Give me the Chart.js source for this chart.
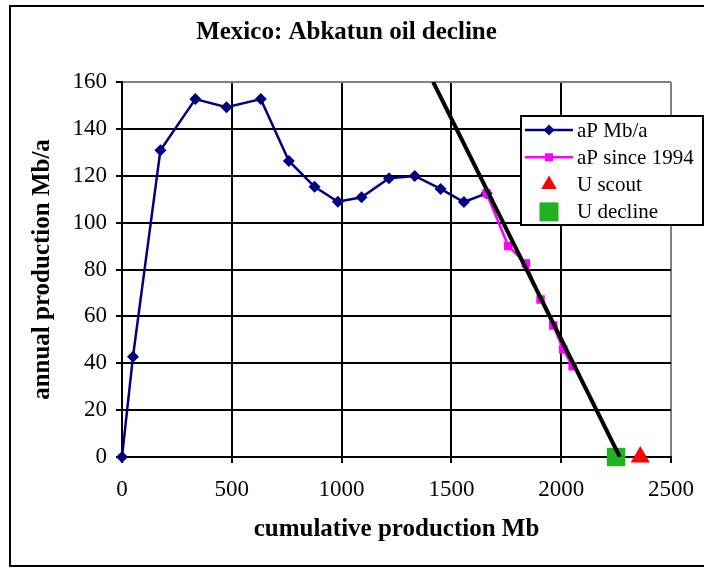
<!DOCTYPE html>
<html>
<head>
<meta charset="utf-8">
<title>Mexico: Abkatun oil decline</title>
<script src="https://cdn.jsdelivr.net/npm/chart.js@4.4.1/dist/chart.umd.min.js"></script>
<style>
  html, body { margin: 0; padding: 0; background: #fff; }
  canvas { display: block; }
</style>
</head>
<body>
<canvas id="chart" width="704" height="568"></canvas>
<script>
// cumulative production (Mb) vs annual production (Mb/a)
const cumProd = [0, 50, 175, 334, 476, 632, 760, 877, 983, 1091, 1216, 1333, 1451, 1557, 1660];
const annualProd = [0, 42.8, 130.9, 152.7, 149.2, 152.7, 126.3, 115.3, 108.9, 110.8, 118.9, 119.9, 114.4, 108.8, 112.5];

// since 1994
const cumSince1994 = [1660, 1759, 1839, 1906, 1964, 2009, 2052];
const annualSince1994 = [112.5, 90.0, 82.6, 67.2, 56.1, 45.9, 38.7];

// fitted decline line
const declineLineX = [1417, 2267];
const declineLineY = [160, 0];

// ultimate estimates
const uScoutX = [2360];
const uDeclineX = [2250];

const xTickValues = [0, 500, 1000, 1500, 2000, 2500];
const yTickValues = [0, 20, 40, 60, 80, 100, 120, 140, 160];

const serif = "'Liberation Serif', 'Times New Roman', serif";
const navy = '#000080';
const magenta = '#ff00ff';
const red = '#ff0000';
const green = '#1fb31f';

const toPoints = (xs, ys) => xs.map((x, i) => ({ x: x, y: ys[i] }));

// draw a legend marker by hand so the sample matches the plotted ones
function drawMarker(ctx, shape, x, y, r, color) {
  ctx.save();
  ctx.fillStyle = color;
  ctx.beginPath();
  if (shape === 'diamond') {
    ctx.moveTo(x, y - r);
    ctx.lineTo(x + r, y);
    ctx.lineTo(x, y + r);
    ctx.lineTo(x - r, y);
  } else if (shape === 'triangle') {
    ctx.moveTo(x, y - r);
    ctx.lineTo(x + r * 0.866, y + r * 0.5);
    ctx.lineTo(x - r * 0.866, y + r * 0.5);
  } else {
    ctx.rect(x - r, y - r, 2 * r, 2 * r);
  }
  ctx.closePath();
  ctx.fill();
  ctx.restore();
}

const frame = {
  id: 'frame',
  beforeDraw(chart) {
    const ctx = chart.ctx;
    ctx.save();
    ctx.fillStyle = '#fff';
    ctx.fillRect(0, 0, chart.width, chart.height);
    ctx.strokeStyle = '#000';
    ctx.lineWidth = 2;
    ctx.strokeRect(10, 6, 710, 560);
    ctx.restore();
  }
};

const legendItems = [
  { label: 'aP Mb/a', color: navy, line: true, shape: 'diamond', r: 5.5 },
  { label: 'aP since 1994', color: magenta, line: true, shape: 'square', r: 4 },
  { label: 'U scout', color: red, line: false, shape: 'triangle', r: 9 },
  { label: 'U decline', color: green, line: false, shape: 'square', r: 9.5 }
];

const boxLegend = {
  id: 'boxLegend',
  afterDraw(chart) {
    const ctx = chart.ctx;
    const left = 521, top = 116, w = 182, h = 109;
    ctx.save();
    ctx.fillStyle = '#fff';
    ctx.fillRect(left, top, w, h);
    ctx.strokeStyle = '#000';
    ctx.lineWidth = 2;
    ctx.strokeRect(left, top, w, h);
    ctx.font = '21px ' + serif;
    ctx.textBaseline = 'middle';
    ctx.textAlign = 'left';
    legendItems.forEach((item, i) => {
      const y = top + 14 + i * 27.3;
      if (item.line) {
        ctx.strokeStyle = item.color;
        ctx.lineWidth = 2.5;
        ctx.beginPath();
        ctx.moveTo(525, y);
        ctx.lineTo(573, y);
        ctx.stroke();
      }
      drawMarker(ctx, item.shape, 549, y, item.r, item.color);
      ctx.fillStyle = '#000';
      ctx.fillText(item.label, 577, y + 1);
    });
    ctx.restore();
  }
};

new Chart(document.getElementById('chart'), {
  type: 'scatter',
  data: {
    datasets: [
      {
        label: 'decline',
        data: toPoints(declineLineX, declineLineY),
        showLine: true,
        borderColor: '#000',
        borderWidth: 4,
        pointRadius: 0
      },
      {
        label: 'U decline',
        data: toPoints(uDeclineX, [0]),
        pointStyle: 'rect',
        pointRadius: 13,
        backgroundColor: green,
        borderWidth: 0,
        clip: false
      },
      {
        label: 'U scout',
        data: toPoints(uScoutX, [0]),
        pointStyle: 'triangle',
        pointRadius: 11,
        backgroundColor: red,
        borderWidth: 0,
        clip: false
      },
      {
        label: 'aP since 1994',
        data: toPoints(cumSince1994, annualSince1994),
        showLine: true,
        borderColor: magenta,
        borderWidth: 2.5,
        pointStyle: 'rect',
        pointRadius: 6,
        backgroundColor: magenta,
        pointBorderWidth: 0
      },
      {
        label: 'aP Mb/a',
        data: toPoints(cumProd, annualProd),
        showLine: true,
        borderColor: navy,
        borderWidth: 2.5,
        pointStyle: 'rectRot',
        pointRadius: 6,
        backgroundColor: navy,
        pointBorderWidth: 0,
        clip: false
      }
    ]
  },
  options: {
    responsive: false,
    animation: false,
    devicePixelRatio: 1,
    layout: { padding: { left: 22, right: 33, top: 0, bottom: 0 } },
    plugins: {
      legend: { display: false },
      tooltip: { enabled: false },
      title: {
        display: true,
        text: 'Mexico: Abkatun oil decline',
        color: '#000',
        font: { family: serif, size: 25, weight: 'bold' },
        padding: { top: 18, bottom: 34 }
      }
    },
    scales: {
      x: {
        type: 'linear',
        min: 0,
        max: 2500,
        afterBuildTicks: (scale) => { scale.ticks = xTickValues.map(v => ({ value: v })); },
        afterFit: (scale) => {
          scale.height = 111;
          scale.paddingLeft = 0;
          scale.paddingRight = 0;
        },
        ticks: {
          color: '#000',
          font: { family: serif, size: 23 },
          padding: 13,
          maxRotation: 0,
          callback: (v) => String(v)
        },
        grid: {
          color: (c) => (c.tick && c.tick.value === 2500 ? '#808080' : '#000'),
          tickColor: '#000',
          lineWidth: 2,
          tickLength: 6
        },
        border: { color: '#000', width: 2 },
        title: {
          display: true,
          text: 'cumulative production Mb',
          color: '#000',
          font: { family: serif, size: 25, weight: 'bold' },
          padding: { top: 0, bottom: 23 }
        }
      },
      y: {
        type: 'linear',
        min: 0,
        max: 160,
        afterBuildTicks: (scale) => { scale.ticks = yTickValues.map(v => ({ value: v })); },
        afterFit: (scale) => {
          scale.width = 100;
          scale.paddingTop = 0;
          scale.paddingBottom = 0;
        },
        ticks: {
          color: '#000',
          font: { family: serif, size: 23 },
          padding: 9,
          callback: (v) => String(v)
        },
        grid: {
          color: (c) => (c.tick && c.tick.value === 160 ? '#808080' : '#000'),
          tickColor: '#000',
          lineWidth: 2,
          tickLength: 6
        },
        border: { color: '#000', width: 2 },
        title: {
          display: true,
          text: 'annual production Mb/a',
          color: '#000',
          font: { family: serif, size: 25, weight: 'bold' },
          padding: { top: 6, bottom: 0 }
        }
      }
    }
  },
  plugins: [frame, boxLegend]
});
</script>
</body>
</html>
